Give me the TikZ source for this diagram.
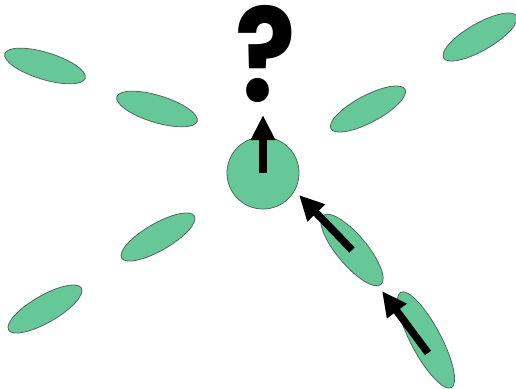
\documentclass[tikz,border=0pt]{standalone}
\usepackage{fontspec}
\setmainfont{Liberation Sans}
\newfontfamily\askfont{Poppins}
\usepackage{tikz}
\usetikzlibrary{shapes.geometric, arrows.meta, positioning, calc}

\definecolor{cellgreen}{HTML}{66C799}
\definecolor{celledge}{HTML}{4F6B5C}

\begin{document}
\begin{tikzpicture}[
    x=1pt, y=-1pt,
    cell/.style={ellipse, draw=celledge, fill=cellgreen, line width=0.8pt,
                 minimum width=84, minimum height=27, inner sep=0pt},
    arr/.style={-{Triangle[length=25pt, width=23pt]}, line width=7.5pt, black},
]
    \useasboundingbox (0,0) rectangle (516,388);

    % Cells on the left
    \node[cell, rotate=-17] (tl) at (45,66) {};
    \node[cell, rotate=-17] (ml) at (157,109) {};
    \node[cell, rotate=30] (bl1) at (158,237) {};
    \node[cell, rotate=30] (bl2) at (45,309) {};

    % Cells on the right
    \node[cell, rotate=30] (tr) at (480,37) {};
    \node[cell, rotate=28] (mr) at (368,109) {};

    % Cells moving towards the centre
    \node[cell, rotate=-50, minimum width=90, minimum height=30] (mv1) at (352,250) {};
    \node[cell, rotate=-62, minimum width=108, minimum height=30] (mv2) at (426,340) {};

    % Centre cell
    \node[circle, draw=celledge, fill=cellgreen, line width=0.8pt,
          minimum size=72, inner sep=0pt] (mid) at (263,173) {};

    % Question
    \node[font=\askfont\bfseries\fontsize{118}{118}\selectfont, yscale=1.1, xscale=0.95,
          inner sep=0pt] (ask) at (266,54) {?};

    % Arrow tips
    \coordinate (up) at (263,115);
    \coordinate (tip1) at (299,195);
    \coordinate (tip2) at (382,291);
    \coordinate (tail2) at (428,353);

    % Arrows
    \draw[arr] (mid.center) -- (up);
    \draw[arr] (mv1.center) -- (tip1);
    \draw[arr] (tail2) -- (tip2);
\end{tikzpicture}
\end{document}
